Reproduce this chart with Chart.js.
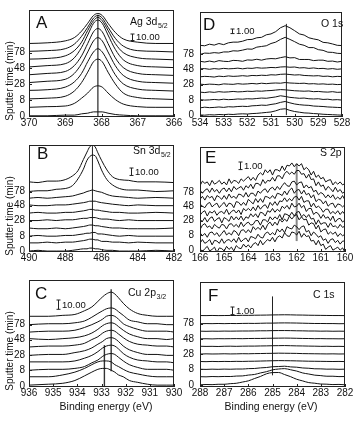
<!DOCTYPE html>
<html>
<head>
<meta charset="utf-8">
<script src="https://cdn.jsdelivr.net/npm/chart.js@4.4.1/dist/chart.umd.min.js"></script>
<style>
  body { margin: 0; background: #fff; width: 354px; height: 422px; overflow: hidden; position: relative; }
  canvas { position: absolute; }
</style>
</head>
<body>
<canvas id="cA"></canvas>
<canvas id="cB"></canvas>
<canvas id="cC"></canvas>
<canvas id="cD"></canvas>
<canvas id="cE"></canvas>
<canvas id="cF"></canvas>
<script>
// sputter time labels (on every second spectrum)
var sputterLabels = ['0', '8', '28', '48', '78'];
var labelIdx = [0, 2, 4, 6, 8];

// A: Ag 3d5/2
var aEnergy = [370, 369.5, 369.0, 368.75, 368.55, 368.38, 368.22, 368.1, 367.98, 367.82, 367.62, 367.4, 367.0, 366.5, 366.0];
var aOffsets = [0, 12, 24, 37, 49, 61, 73, 85, 97, 110];
var aCurves = [
  [0,0,1,1,3,4,6,6,6,4,2,1,0,0,0],
  [1,2,3,7,15,23,32,34,32,23,13,6,2,1,1],
  [2,3,6,14,27,43,59,63,59,43,25,11,4,2,1],
  [2,3,7,15,28,46,61,66,61,46,26,12,4,2,1],
  [2,4,7,16,31,49,66,71,66,49,28,13,4,2,1],
  [2,4,7,16,31,50,68,73,68,50,28,13,4,2,1],
  [2,4,7,16,32,51,69,74,69,51,29,13,4,2,1],
  [2,3,7,15,28,46,61,66,61,46,26,12,4,2,1],
  [2,3,6,13,25,39,53,57,53,39,22,10,3,2,1],
  [1,2,5,10,20,32,44,47,44,32,18,8,3,1,1]
];
var aLines = [[368.1, -0.4, 155]];

// B: Sn 3d5/2
var bEnergy = [490, 489.5, 489, 488.5, 488, 487.6, 487.3, 487.0, 486.8, 486.65, 486.5, 486.35, 486.2, 486.0, 485.7, 485.4, 485.0, 484.5, 484.0, 483.0, 482.0];
var bOffsets = [0, 11, 20, 30, 41, 51, 61, 71, 80, 92];
var bCurves = [
  [0,1,0,0,0,1,2,3,3,4,4,3,3,2,1,1,0,0,0,1,0],
  [0,0,1,0,1,1,2,3,4,5,5,4,4,2,2,1,1,0,1,0,0],
  [0,1,0,0,1,1,2,3,4,4,5,5,3,3,2,1,0,1,0,0,0],
  [1,0,0,1,0,1,2,3,4,5,5,4,4,3,2,1,1,0,0,0,1],
  [0,0,1,0,1,1,2,3,3,4,4,4,3,2,2,1,0,1,0,0,0],
  [0,1,0,0,1,1,2,3,4,5,5,4,4,3,2,1,1,0,0,1,0],
  [1,0,0,1,1,2,3,4,5,6,6,6,5,4,3,2,1,0,1,0,0],
  [0,1,0,1,2,3,5,7,9,10,11,10,9,8,5,3,2,1,0,1,0],
  [0,1,1,3,4,8,17,30,42,47,49,48,41,29,16,9,4,2,2,0,1],
  [1,0,2,2,4,9,16,31,41,48,50,48,40,30,17,8,4,3,1,1,0]
];
var bLines = [[486.5, -1.2, 141]];

// C: Cu 2p3/2
var cEnergy = [936, 935.2, 934.6, 934.1, 933.7, 933.4, 933.15, 932.95, 932.8, 932.6, 932.45, 932.3, 932.1, 931.85, 931.5, 931.1, 930.7, 930.3, 930];
var cOffsets = [0, 9, 17, 25, 33, 42, 50, 58, 66, 74];
var cCurves = [
  [1,2,3,6,11,15,18,19,19,17,15,12,10,6,4,2,1,1,1],
  [1,1,3,6,10,14,17,18,18,17,14,12,9,6,4,2,1,1,1],
  [0,1,1,2,4,8,11,15,17,18,17,14,10,6,3,1,1,1,0],
  [1,1,1,2,5,8,12,16,18,19,18,15,10,6,3,2,1,1,0],
  [0,1,1,3,5,8,12,15,18,19,18,15,10,6,3,1,1,0,0],
  [0,1,1,2,4,8,11,15,17,18,17,14,10,6,3,2,1,1,0],
  [1,0,1,2,4,7,11,15,17,18,17,14,10,6,3,1,1,0,1],
  [0,1,1,2,5,8,11,14,17,18,17,14,9,6,3,1,1,1,0],
  [0,1,1,2,4,8,12,15,17,18,17,14,10,5,3,1,1,0,0],
  [1,1,2,3,7,11,17,22,25,27,25,21,15,9,4,2,1,1,1]
];
var cLines = [[932.6, 16, 104], [932.88, -1, 44]];

// D: O 1s
var dEnergy = [534,533.8,533.6,533.4,533.2,533,532.8,532.6,532.4,532.2,532,531.8,531.6,531.4,531.2,531,530.8,530.6,530.4,530.2,530,529.8,529.6,529.4,529.2,529,528.8,528.6,528.4,528.2,528];
var dOffsets = [0, 1.6, 3.3, 5.0, 6.7, 8.4, 10.1, 11.7, 13.4, 15.2];
var dCurves = [
  [0.05,0.0,0.1,0.05,0.15,0.1,0.2,0.15,0.25,0.3,0.25,0.35,0.4,0.5,0.6,0.7,0.95,1.3,1.4,1.05,0.8,0.65,0.5,0.45,0.35,0.3,0.2,0.15,0.1,0.05,0.0],
  [0.0,0.15,0.05,0.1,0.2,0.1,0.25,0.2,0.3,0.35,0.3,0.45,0.5,0.6,0.55,0.75,0.9,1.2,1.4,1.1,0.85,0.7,0.6,0.55,0.4,0.35,0.3,0.2,0.15,0.1,0.05],
  [0.1,0.0,0.05,0.15,0.05,0.2,0.1,0.15,0.25,0.2,0.3,0.25,0.35,0.45,0.4,0.55,0.7,0.95,0.8,0.6,0.5,0.4,0.45,0.3,0.25,0.3,0.15,0.2,0.05,0.1,0.0],
  [0.05,-0.05,0.1,0.0,0.15,0.05,0.1,0.2,0.1,0.15,0.25,0.2,0.3,0.25,0.35,0.4,0.5,0.6,0.55,0.45,0.35,0.3,0.25,0.3,0.15,0.2,0.1,0.05,0.15,0.0,0.05],
  [0.1,0.0,0.1,0.05,-0.05,0.15,0.1,0.05,0.2,0.1,0.15,0.25,0.15,0.3,0.2,0.3,0.35,0.3,0.45,0.35,0.3,0.25,0.3,0.15,0.2,0.1,0.15,0.05,0.1,0.0,0.05],
  [0.0,0.1,0.05,-0.05,0.15,0.05,0.2,0.1,0.15,0.25,0.15,0.3,0.25,0.35,0.3,0.45,0.4,0.55,0.6,0.5,0.4,0.45,0.3,0.25,0.2,0.25,0.1,0.15,0.0,0.1,0.05],
  [0.05,0.1,-0.05,0.1,0.0,0.15,0.05,0.1,0.2,0.05,0.2,0.15,0.3,0.2,0.25,0.35,0.3,0.45,0.5,0.4,0.45,0.25,0.3,0.15,0.25,0.1,0.15,0.0,0.1,-0.05,0.05],
  [0.1,-0.05,0.15,-0.05,0.25,0.1,0.05,0.3,0.25,0.1,0.4,0.35,0.55,0.35,0.6,0.7,0.65,0.9,1.1,0.85,0.9,0.5,0.5,0.5,0.25,0.35,0.35,0.1,0.15,-0.05,0.1],
  [-0.1,0.2,0.15,0.3,0.2,0.45,0.45,0.7,0.65,0.85,1.1,1.05,1.5,1.65,1.8,2.3,2.6,3.2,3.65,3.2,2.7,2.15,1.9,1.4,1.4,0.95,0.8,0.4,0.35,0.15,0.1],
  [0.1,0.0,0.35,0.15,0.5,0.25,0.65,0.8,0.8,1.0,1.35,1.4,1.75,1.85,2.4,2.6,3.1,3.95,4.4,3.95,3.3,2.6,2.35,1.75,1.5,1.3,0.75,0.65,0.4,0.1,0.05]
];
var dLines = [[530.35, 0, 20]];

// E: S 2p
var eEnergy = [166,165.9,165.8,165.7,165.6,165.5,165.4,165.3,165.2,165.1,
  165,164.9,164.8,164.7,164.6,164.5,164.4,164.3,164.2,164.1,
  164,163.9,163.8,163.7,163.6,163.5,163.4,163.3,163.2,163.1,
  163,162.9,162.8,162.7,162.6,162.5,162.4,162.3,162.2,162.1,
  162,161.9,161.8,161.7,161.6,161.5,161.4,161.3,161.2,161.1,
  161,160.9,160.8,160.7,160.6,160.5,160.4,160.3,160.2,160.1,160];
var eOffsets = [0, 1, 2, 3, 3.9, 4.8, 5.8, 6.8, 7.7, 8.7];
var eCurves = [
  [.2,-.2,.2,.5,-.1,.1,.4,-.3,.3,.2, -.1,.5,.1,.4,-.1,.6,.3,.2,.8,.4, .7,.3,.8,1.0,.6,1.3,.7,1.1,1.4,1.2,
   1.7,1.1,1.7,1.9,1.6,2.3,1.9,1.8,2.4,2.3, 2.0,2.5,1.7,2.2,1.8,1.9,1.2,1.3,.7,1.3, .6,.8,.1,.4,.6,0,.2,.4,0,.3, -.3],
  [-.1,.4,-.1,.1,.4,-.3,.3,.2,-.1,.5, -.1,.3,.4,.1,.5,0,.7,.1,.4,.6, .1,.8,.7,.5,1.1,.7,.6,1.2,1.4,1.0,
   1.3,1.0,1.8,1.4,1.8,1.3,2.1,1.9,1.8,2.3, 2.1,1.7,2.1,2.2,1.4,1.6,.9,1.4,1.1,.7, .9,.3,.5,-.1,.4,.5,0,.3,-.2,.2, .2],
  [.3,-.1,.2,-.3,.3,.4,0,.3,-.2,.2, .6,0,.3,0,.6,.4,-.1,.6,.7,.3, .7,.3,1.1,.7,1.0,.7,1.3,.7,1.4,1.7,
   1.2,1.7,1.3,2.1,1.7,2.1,1.8,2.5,2.1,2.5, 2.7,2.0,2.4,2.0,2.1,1.3,1.6,1.5,.8,1.3, .4,.7,.8,.1,.4,.1,.4,-.2,.2,-.1, .1],
  [-.3,.3,.5,0,.2,-.2,.4,.1,-.1,.4, .3,-.2,.4,.5,.1,.4,0,.7,.1,.5, .7,.3,.4,.9,.9,.3,1.0,1.0,.7,1.4,
   1.0,1.4,1.1,1.7,1.0,1.8,1.7,1.5,2.0,1.5, 2.0,2.1,1.4,1.7,1.3,1.7,1.1,1.2,.4,1.0, .4,.6,.6,0,.6,.1,.2,-.1,.4,0, .2],
  [.1,-.1,.4,-.2,.3,.5,-.1,.2,.4,-.3, .4,.2,-.1,.6,.1,.5,.1,.6,0,.5, .3,.9,.5,.9,.4,1.1,1.0,.6,1.3,1.1,
   1.6,1.1,1.5,1.2,1.9,1.6,2.0,1.5,2.3,1.8, 1.9,2.3,1.7,2.0,1.2,1.6,1.6,.8,1.1,.9, .3,.8,.3,.5,0,.6,-.2,.2,.3,-.2, .1],
  [-.2,.2,.4,-.3,.3,.1,.4,-.2,.2,.3, 0,.6,-.1,.3,.5,.1,.5,-.1,.7,.4, .7,.4,.9,.4,1.1,.6,1.0,1.2,.7,1.5,
   1.1,1.6,1.1,1.7,1.6,2.1,1.6,2.0,1.7,2.2, 2.3,1.8,2.3,1.5,1.7,1.7,.9,1.4,.8,1.0, .7,.2,.6,.6,0,.3,0,.4,-.1,.3, -.1],
  [.3,0,-.2,.3,.5,-.1,.2,.4,-.2,.2, .5,-.1,.4,.3,-.2,.6,.5,.1,.5,.1, .9,.6,.3,1.0,.5,1.0,.5,1.3,1.2,1.0,
   1.4,1.0,1.7,1.6,1.4,2.0,1.5,2.1,2.4,1.7, 2.1,2.2,1.6,2.1,1.5,1.7,1.1,1.5,.6,.9, .8,.3,.7,0,.3,.4,-.2,.3,.2,-.1, .2],
  [-.1,.3,-.2,.4,.1,.3,-.3,.4,.2,-.1, .4,-.1,.6,.1,.3,0,.6,.5,.2,.8, .2,.7,.7,.3,1.0,.7,1.1,1.3,.8,1.3,
   1.5,1.1,1.6,1.2,1.7,2.1,1.7,1.6,2.2,2.3, 1.8,2.1,2.2,1.4,1.8,1.4,1.6,.9,1.1,.5, .8,.6,.1,.5,.1,.5,-.1,.2,-.1,.4, -.2],
  [.2,-.2,.2,.4,-.1,.5,0,.3,-.2,.3, .5,0,.5,0,.7,.3,.5,.7,.2,.8, .5,1.0,.4,1.1,1.1,.8,1.6,1.1,1.5,1.4,
   1.9,1.4,2.1,2.1,1.7,2.4,2.7,2.3,2.6,2.3, 2.8,2.8,2.3,2.4,1.8,2.3,1.6,1.7,.8,1.3, .7,.9,.2,.7,.4,0,.6,0,.3,-.2, .1],
  [-.2,.4,.1,.3,-.2,.5,0,.2,.5,0, .3,-.1,.7,.1,.5,.4,.1,.7,.4,.7, 1.0,.5,.9,.5,1.2,1.5,1.2,1.9,1.5,1.9,
   1.2,1.9,1.9,1.7,2.4,1.8,2.5,2.4,2.8,2.3, 2.7,2.4,2.7,1.9,2.2,1.9,1.2,1.7,.9,1.2, .7,.9,.3,.5,.6,-.1,.3,0,.3,-.1, .1]
];
var eLines = [[162.0, 1.2, 11.4]];

// F: C 1s
var fEnergy = [288,287.75,287.5,287.25,287,286.75,286.5,286.25,286,285.75,285.5,285.25,285,284.75,284.5,284.25,284,283.75,283.5,283.25,283,282.75,282.5,282.25,282];
var fOffsets = [0, 1.08, 2.08, 3.1, 4.1, 5.1, 6.1, 7.1, 8.1, 9.16];
var fCurves = [
  [0.05,0.09,0.07,0.12,0.12,0.2,0.25,0.41,0.57,0.87,1.15,1.5,1.66,1.67,1.4,1.12,0.78,0.56,0.34,0.26,0.15,0.13,0.08,0.1,0.05],
  [0.04,0.02,0.06,0.04,0.07,0.06,0.12,0.14,0.25,0.33,0.53,0.7,0.94,1.05,1.1,0.95,0.78,0.53,0.39,0.24,0.18,0.1,0.1,0.05,0.06],
  [0.02,0.0,0.03,0.01,0.04,0.02,0.05,0.05,0.1,0.12,0.2,0.25,0.35,0.38,0.42,0.33,0.29,0.19,0.15,0.08,0.07,0.03,0.04,0.01,0.03],
  [0.02,0.0,0.03,0.01,0.03,0.02,0.04,0.03,0.05,0.06,0.08,0.1,0.12,0.14,0.13,0.12,0.1,0.08,0.06,0.05,0.04,0.03,0.02,0.03,0.01],
  [0.0,0.03,0.01,0.02,0.04,0.02,0.03,0.05,0.04,0.06,0.07,0.09,0.1,0.12,0.11,0.1,0.09,0.06,0.05,0.04,0.03,0.02,0.03,0.01,0.02],
  [0.03,0.01,0.02,0.0,0.03,0.04,0.02,0.04,0.05,0.05,0.07,0.08,0.1,0.11,0.12,0.1,0.08,0.07,0.05,0.04,0.02,0.03,0.01,0.02,0.0],
  [0.01,0.02,0.0,0.03,0.02,0.03,0.04,0.03,0.05,0.06,0.06,0.08,0.09,0.1,0.11,0.1,0.08,0.06,0.05,0.03,0.04,0.02,0.02,0.01,0.02],
  [0.02,0.0,0.02,0.01,0.03,0.02,0.03,0.04,0.04,0.05,0.07,0.07,0.09,0.1,0.1,0.09,0.07,0.06,0.04,0.04,0.02,0.03,0.01,0.02,0.01],
  [0.0,0.02,0.01,0.03,0.01,0.03,0.02,0.04,0.05,0.04,0.06,0.08,0.08,0.1,0.11,0.1,0.09,0.07,0.05,0.03,0.03,0.02,0.02,0.0,0.01],
  [0.02,0.01,0.03,0.01,0.02,0.03,0.03,0.05,0.04,0.06,0.07,0.08,0.1,0.11,0.12,0.11,0.09,0.08,0.06,0.05,0.04,0.03,0.02,0.02,0.01]
];
var fLines = [[285.0, 1.3, 11.7]];

var FONT = '"Liberation Sans", Arial, Helvetica, sans-serif';
var PAD_L = 28, PAD_R = 10, PAD_T = 2, PAD_B = 16;

var panels = [
  { id: 'cA', box: [29, 2, 174, 117], x: aEnergy, off: aOffsets, curves: aCurves, lines: aLines,
    xMin: 366, xMax: 370, xStep: 1, yMin: -1.86, yMax: 162.4, smooth: true, lineColor: '#444', lineW: 1.4,
    letter: 'A', letterAt: [7, 5], label: 'Ag 3d', sub: '5/2', labelAt: [101, 15],
    bar: 10, barText: '10.00', barAt: [103, 24], yTitle: true, yPad: 4 },
  { id: 'cB', box: [29, 137, 174, 252], x: bEnergy, off: bOffsets, curves: bCurves, lines: bLines,
    xMin: 482, xMax: 490, xStep: 2, yMin: -1.25, yMax: 142.5, smooth: true, lineColor: '#222', lineW: 1,
    letter: 'B', letterAt: [8, 1], label: 'Sn 3d', sub: '5/2', labelAt: [104, 9],
    bar: 10, barText: '10.00', barAt: [102, 23], yTitle: true, yPad: 4 },
  { id: 'cC', box: [29, 272, 174, 387], x: cEnergy, off: cOffsets, curves: cCurves, lines: cLines,
    xMin: 930, xMax: 936, xStep: 1, yMin: -1, yMax: 114, smooth: true, lineColor: '#333', lineW: 1.4,
    letter: 'C', letterAt: [6, 6], label: 'Cu 2p', sub: '3/2', labelAt: [99, 16],
    bar: 10, barText: '10.00', barAt: [29, 20], yTitle: true, xTitle: 77, yPad: 4 },
  { id: 'cD', box: [200, 2, 342, 117], x: dEnergy, off: dOffsets, curves: dCurves, lines: dLines,
    xMin: 528, xMax: 534, xStep: 1, yMin: -0.4, yMax: 22.6, smooth: false, lineColor: '#222', lineW: 1,
    letter: 'D', letterAt: [3, 5], label: 'O 1s', labelAt: [121, 15],
    bar: 1, barText: '1.00', barAt: [32, 17], yPad: 6 },
  { id: 'cE', box: [200, 137, 345, 252], x: eEnergy, off: eOffsets, curves: eCurves, lines: eLines,
    xMin: 160, xMax: 166, xStep: 1, yMin: -0.24, yMax: 13.6, smooth: false, lineColor: '#888', lineW: 2,
    letter: 'E', letterAt: [5, 3], label: 'S 2p', labelAt: [120, 9],
    bar: 1, barText: '1.00', barAt: [40, 15], yPad: 6 },
  { id: 'cF', box: [200, 272, 345, 387], x: fEnergy, off: fOffsets, curves: fCurves, lines: fLines,
    xMin: 282, xMax: 288, xStep: 1, yMin: -0.24, yMax: 13.6, smooth: true, lineColor: '#222', lineW: 1,
    letter: 'F', letterAt: [8, 6], label: 'C 1s', labelAt: [113, 16],
    bar: 1, barText: '1.00', barAt: [32, 25], xTitle: 71, yPad: 6 }
];

function decorPlugin(p) {
  return {
    id: 'decor',
    afterDraw: function(chart) {
      var a = chart.chartArea, c = chart.ctx, xs = chart.scales.x, ys = chart.scales.y;
      c.save();
      c.strokeStyle = '#222';
      c.lineWidth = 1;
      c.strokeRect(a.left + 0.5, a.top + 0.5, a.right - a.left - 1, a.bottom - a.top - 1);
      // inward ticks
      c.beginPath();
      xs.ticks.forEach(function(t) {
        var px = Math.round(xs.getPixelForValue(t.value)) + 0.5;
        c.moveTo(px, a.bottom); c.lineTo(px, a.bottom - 3);
      });
      ys.ticks.forEach(function(t) {
        var py = Math.round(ys.getPixelForValue(t.value)) + 0.5;
        c.moveTo(a.left, py); c.lineTo(a.left + 3, py);
      });
      c.stroke();

      c.fillStyle = '#111';
      c.textAlign = 'left';
      // panel letter
      c.font = '17px ' + FONT;
      c.textBaseline = 'top';
      c.fillText(p.letter, a.left + p.letterAt[0], a.top + p.letterAt[1]);
      // core level label
      c.font = '10.5px ' + FONT;
      c.textBaseline = 'alphabetic';
      var lx = a.left + p.labelAt[0], ly = a.top + p.labelAt[1];
      c.fillText(p.label, lx, ly);
      if (p.sub) {
        var w = c.measureText(p.label).width;
        c.font = '7px ' + FONT;
        c.fillText(p.sub, lx + w + 0.5, ly + 2.5);
      }
      // intensity scale bar
      var bh = ys.getPixelForValue(0) - ys.getPixelForValue(p.bar);
      var bx = Math.round(a.left + p.barAt[0]) + 0.5, by = a.top + p.barAt[1];
      c.beginPath();
      c.moveTo(bx, by); c.lineTo(bx, by + bh);
      c.moveTo(bx - 2, by); c.lineTo(bx + 2, by);
      c.moveTo(bx - 2, by + bh); c.lineTo(bx + 2, by + bh);
      c.stroke();
      c.font = '9.5px ' + FONT;
      c.textBaseline = 'middle';
      c.fillText(p.barText, bx + 3.5, by + bh / 2 + 0.5);
      // axis titles
      c.font = '10px ' + FONT;
      if (p.yTitle) {
        c.save();
        c.translate(a.left - 19, a.top + 71);
        c.rotate(-Math.PI / 2);
        c.textAlign = 'center';
        c.fillText('Sputter time (min)', 0, 0);
        c.restore();
      }
      if (p.xTitle) {
        c.font = '10.5px ' + FONT;
        c.textAlign = 'center';
        c.fillText('Binding energy (eV)', a.left + p.xTitle, a.bottom + 20);
      }
      c.restore();
    }
  };
}

function buildPanel(p) {
  var cv = document.getElementById(p.id);
  var extra = p.xTitle ? 24 : 0;
  var W = p.box[2] - p.box[0] + PAD_L + PAD_R;
  var H = p.box[3] - p.box[1] + PAD_T + PAD_B + extra;
  cv.width = W; cv.height = H;
  cv.style.width = W + 'px'; cv.style.height = H + 'px';
  cv.style.left = (p.box[0] - PAD_L) + 'px';
  cv.style.top = (p.box[1] - PAD_T) + 'px';

  var datasets = p.curves.map(function(curve, i) {
    return {
      data: p.x.map(function(e, j) { return { x: e, y: p.off[i] + curve[j] }; }),
      borderColor: '#111', borderWidth: 1, pointRadius: 0,
      cubicInterpolationMode: p.smooth ? 'monotone' : 'default', tension: 0
    };
  });
  p.lines.forEach(function(l) {
    datasets.push({
      data: [{ x: l[0], y: l[1] }, { x: l[0], y: l[2] }],
      borderColor: p.lineColor, borderWidth: p.lineW, pointRadius: 0
    });
  });

  new Chart(cv, {
    type: 'line',
    data: { datasets: datasets },
    options: {
      responsive: false, animation: false, devicePixelRatio: 1,
      layout: { padding: { top: PAD_T, right: PAD_R, left: 0, bottom: extra } },
      plugins: { legend: { display: false }, tooltip: { enabled: false } },
      scales: {
        x: {
          type: 'linear', reverse: true, min: p.xMin, max: p.xMax,
          grid: { display: false, drawTicks: false }, border: { display: false },
          ticks: { stepSize: p.xStep, autoSkip: false, maxRotation: 0, padding: 0, color: '#111',
                   font: { size: 10, family: FONT } },
          afterFit: function(s) { s.height = PAD_B; }
        },
        y: {
          type: 'linear', min: p.yMin, max: p.yMax,
          grid: { display: false, drawTicks: false }, border: { display: false },
          afterBuildTicks: function(s) {
            s.ticks = labelIdx.map(function(i) { return { value: p.off[i] }; });
          },
          ticks: { autoSkip: false, padding: p.yPad, color: '#111', font: { size: 10, family: FONT },
                   callback: function(v, i) { return sputterLabels[i]; } },
          afterFit: function(s) { s.width = PAD_L; }
        }
      }
    },
    plugins: [decorPlugin(p)]
  });
}

panels.forEach(buildPanel);
</script>
</body>
</html>
